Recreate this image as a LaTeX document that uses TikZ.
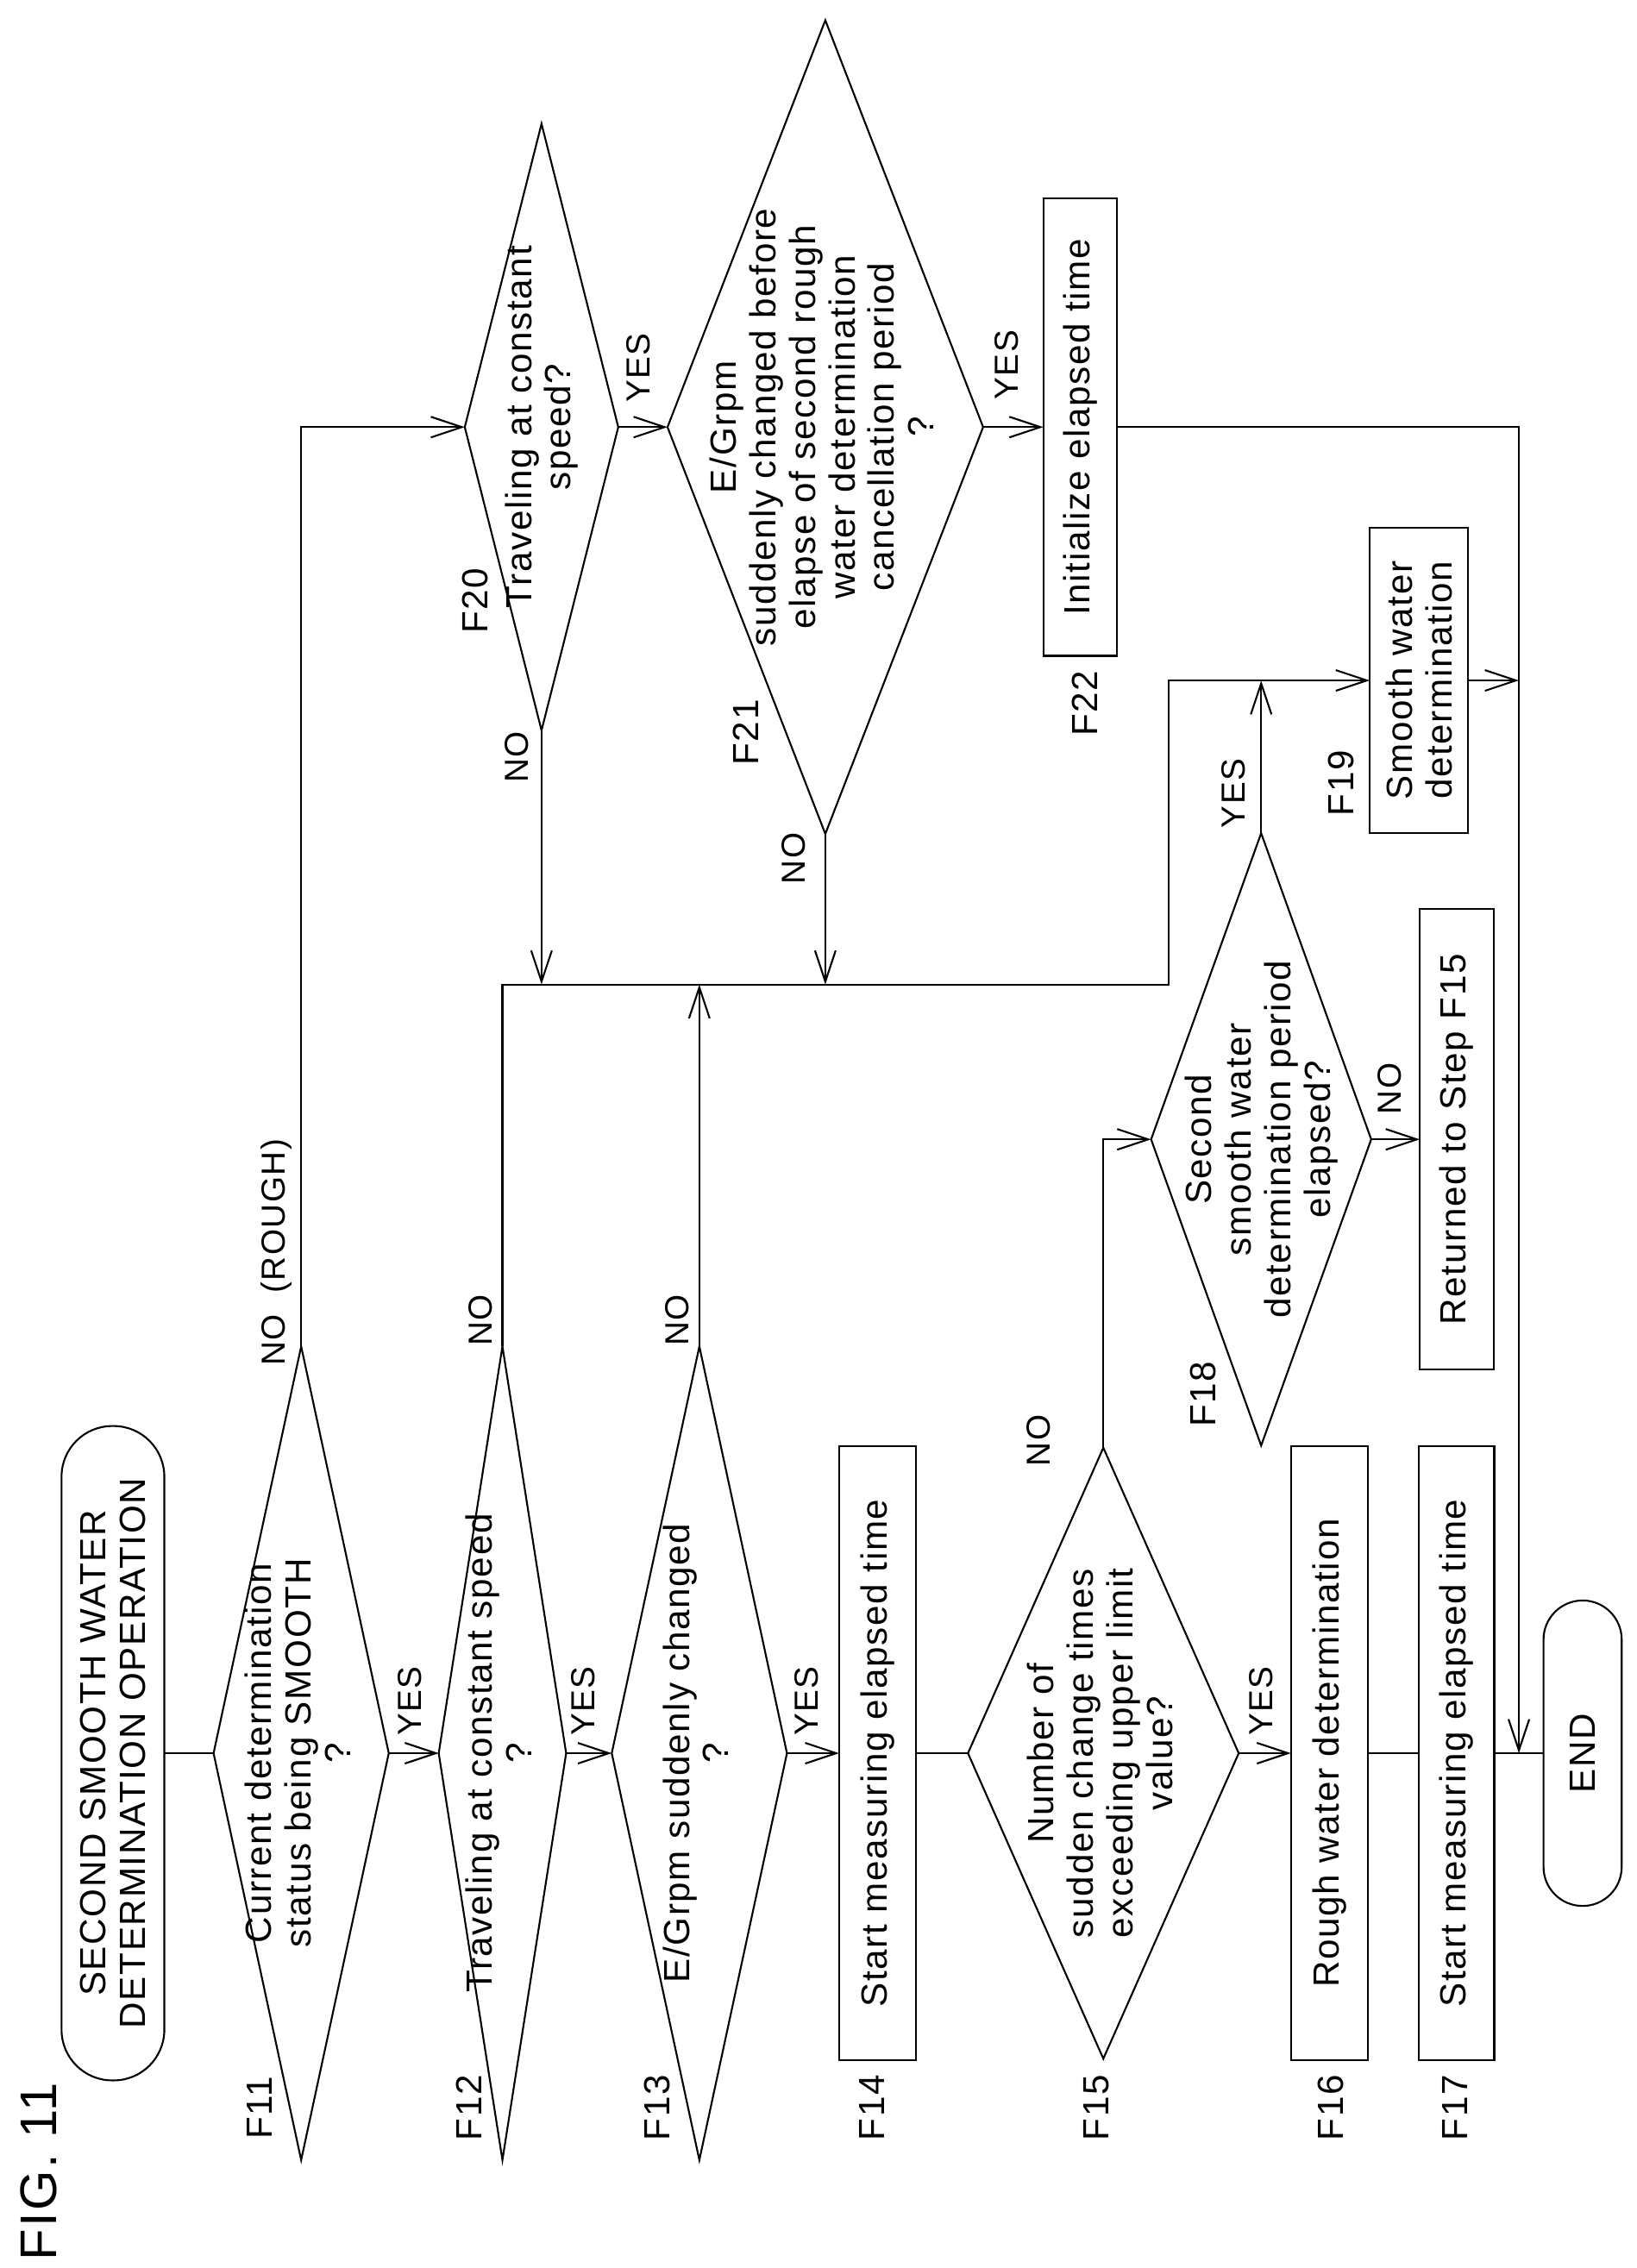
\documentclass[tikz,border=0pt]{standalone}
\usepackage{fontspec}
\setmainfont{Liberation Sans}[LetterSpace=4]
\usetikzlibrary{shapes.geometric,arrows.meta}
\def\px{0.016788cm}
\newcommand{\zb}[1]{\makebox[0pt]{\raisebox{-0.3em}[0pt][0pt]{\begin{tabular}{@{}c@{}}#1\end{tabular}}}}
\tikzset{
    >={Straight Barb[length=3.6mm,width=2.4mm]}, % open arrow heads
    }

\begin{document}
\begin{tikzpicture}[
x=\px, y=-\px, line width=0.6pt, font=\fontsize{12}{13}\selectfont,
dec/.style={diamond, draw, rotate=90, inner sep=0pt, outer sep=0pt},
box/.style={rectangle, draw, rotate=90, inner sep=0pt, outer sep=0pt, align=center},
lbl/.style={rotate=90, inner sep=0pt},
]
\useasboundingbox (0,0) rectangle (1130,1566.6);
\node[lbl, font=\fontsize{17}{17}\selectfont] (fig) at (27,1500) {FIG. 11};

% main column
\node[box, rounded corners=35*\px, minimum width=452*\px, minimum height=71*\px] (start) at (78,1211) {SECOND SMOOTH WATER\\DETERMINATION OPERATION};
\node[dec, minimum width=562*\px, minimum height=121*\px] (f11) at (208,1211) {\zb{Current determination\\status being SMOOTH\\?}};
\node[dec, minimum width=562*\px, minimum height=88*\px] (f12) at (347,1211) {\zb{Traveling at constant speed\\?}};
\node[dec, minimum width=562*\px, minimum height=121*\px] (f13) at (483,1211) {\zb{E/Grpm suddenly changed\\?}};
\node[box, minimum width=424*\px, minimum height=53*\px] (f14) at (606,1211) {Start measuring elapsed time};
\node[dec, minimum width=422*\px, minimum height=187*\px] (f15) at (762,1211) {\zb{Number of\\sudden change times\\exceeding upper limit\\value?}};
\node[box, minimum width=424*\px, minimum height=53*\px] (f16) at (918,1211) {Rough water determination};
\node[box, minimum width=424*\px, minimum height=52*\px] (f17) at (1006,1211) {Start measuring elapsed time};
\node[box, rounded corners=27*\px, minimum width=211*\px, minimum height=54*\px] (end) at (1093,1211) {END};

% right part
\node[dec, minimum width=423*\px, minimum height=152*\px] (f18) at (871,787) {\zb{Second\\smooth water\\determination period\\elapsed?}};
\node[box, minimum width=318*\px, minimum height=51*\px] (ret) at (1006,787) {Returned to Step F15};
\node[box, minimum width=211*\px, minimum height=68*\px] (f19) at (980,470) {Smooth water\\determination};
\node[dec, minimum width=419*\px, minimum height=106*\px] (f20) at (374,295) {\zb{Traveling at constant\\speed?}};
\node[dec, minimum width=562*\px, minimum height=218*\px] (f21) at (570,295) {\zb{E/Grpm\\suddenly changed before\\elapse of second rough\\water determination\\cancellation period\\?}};
\node[box, minimum width=316*\px, minimum height=51*\px] (f22) at (746,295) {Initialize elapsed time};

% step labels
\node[lbl] (lf11) at (179,1456) {F11};
\node[lbl] (lf12) at (324,1456) {F12};
\node[lbl] (lf13) at (454,1456) {F13};
\node[lbl] (lf14) at (602,1456) {F14};
\node[lbl] (lf15) at (757,1456) {F15};
\node[lbl] (lf16) at (919,1456) {F16};
\node[lbl] (lf17) at (1005,1456) {F17};
\node[lbl] (lf18) at (831,963) {F18};
\node[lbl] (lf19) at (926,541) {F19};
\node[lbl] (lf20) at (328,415) {F20};
\node[lbl] (lf21) at (515,506) {F21};
\node[lbl] (lf22) at (749,486) {F22};

% yes / no
\begin{scope}[font=\fontsize{11}{12}\selectfont]
\node[lbl] (y11) at (283,1175) {YES};
\node[lbl] (y12) at (403,1175) {YES};
\node[lbl] (y13) at (557,1175) {YES};
\node[lbl] (y15) at (871,1175) {YES};
\node[lbl] (y18) at (852,548) {YES};
\node[lbl] (y20) at (441,254) {YES};
\node[lbl] (y21) at (695,252) {YES};
\node[lbl] (n11) at (191,865) {NO\ \ (ROUGH)};
\node[lbl] (n12) at (332,912) {NO};
\node[lbl] (n13) at (468,912) {NO};
\node[lbl] (n15) at (717,995) {NO};
\node[lbl] (n18) at (960,752) {NO};
\node[lbl] (n20) at (357,523) {NO};
\node[lbl] (n21) at (548,593) {NO};
\end{scope}

\coordinate (jrow) at (0,680);
\coordinate (jn) at (807,680);
\coordinate (e1) at (1049,295);
\coordinate (e2) at (1049,1211);

\draw (start.south) -- (f11.north);
\draw[->] (f11.south) -- (f12.north);
\draw[->] (f12.south) -- (f13.north);
\draw[->] (f13.south) -- (f14.north);
\draw (f14.south) -- (f15.north);
\draw[->] (f15.south) -- (f16.north);
\draw (f16.south) -- (f17.north);
\draw (f17.south) -- (end.north);

\draw[->] (f11.east) |- (f20.north);
\draw[->] (f20.south) -- (f21.north);
\draw[->] (f21.south) -- (f22.north);
\draw[->] (f22.south) -- (e1) -- (e2);
\draw[->] (f20.west) -- (f20.west |- jrow);
\draw[->] (f21.west) -- (f21.west |- jrow);
\draw[->] (f13.east) -- (f13.east |- jrow);
\draw[->] (f12.east) |- (jn) |- (f19.north);
\draw[->] (f18.east) -- (f18.east |- f19.north);
\draw[->] (f19.south) -- (f19.south -| e1);
\draw[->] (f15.east) |- (f18.north);
\draw[->] (f18.south) -- (ret.north);
\end{tikzpicture}
\end{document}
